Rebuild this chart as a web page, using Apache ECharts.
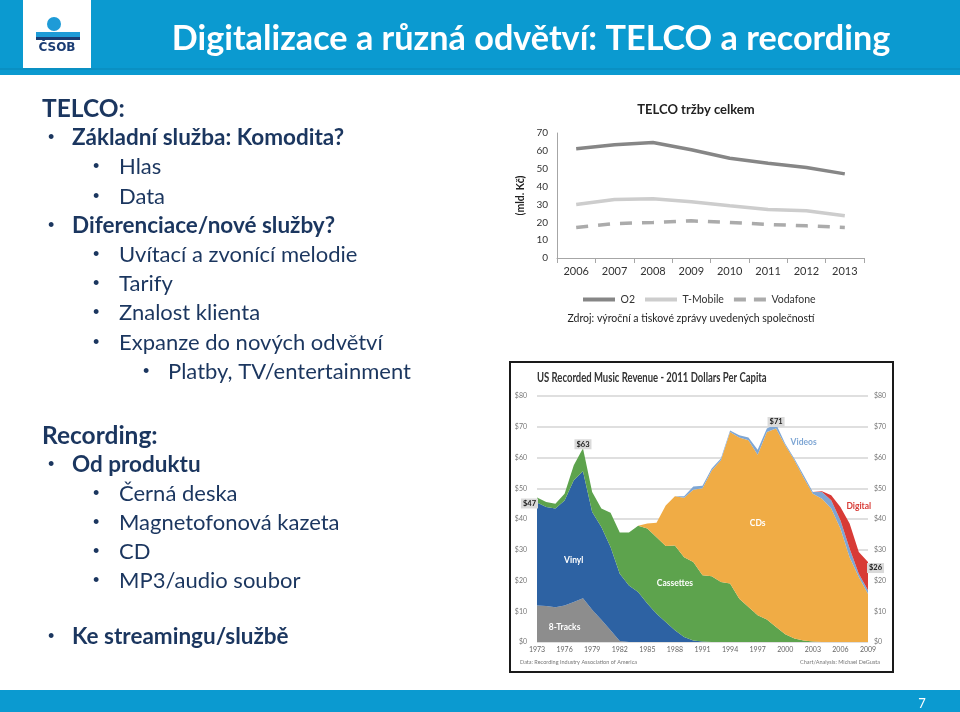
<!DOCTYPE html>
<html><head><meta charset="utf-8">
<script src="https://cdn.jsdelivr.net/npm/echarts@6/dist/echarts.min.js"></script>
<style>html,body{margin:0;padding:0;background:#fff}#c{width:960px;height:712px}</style>
</head><body><div id="c"></div>
<script>
// ---- TELCO chart data ----
const telcoYears = ['2006','2007','2008','2009','2010','2011','2012','2013'];
const o2       = [61.2, 63.4, 64.7, 60.6, 55.9, 53.1, 50.7, 47.1];
const tMobile  = [30.0, 32.8, 33.2, 31.5, 29.3, 27.2, 26.5, 23.6];
const vodafone = [17.1, 19.3, 19.9, 20.8, 19.9, 18.8, 18.0, 17.1];

// ---- US recorded music revenue (2011 $ per capita) ----
const musicYears = ['1973','1974','1975','1976','1977','1978','1979','1980','1981','1982','1983','1984','1985','1986','1987','1988','1989','1990','1991','1992','1993','1994','1995','1996','1997','1998','1999','2000','2001','2002','2003','2004','2005','2006','2007','2008','2009'];
const eightTracks = [11.9,11.7,11.3,11.9,13.0,14.2,10.5,7.2,3.8,0.3,0,0,0,0,0,0,0,0,0,0,0,0,0,0,0,0,0,0,0,0,0,0,0,0,0,0,0];
const vinyl = [33.5,32.2,32.1,34.1,39.6,41.3,31.8,30.2,27.1,21.9,18.4,16.3,12.5,9.2,6.5,3.8,1.6,0.5,0.2,0,0,0,0,0,0,0,0,0,0,0,0,0,0,0,0,0,0];
const cassettes = [1.6,1.6,1.6,2.2,4.9,7.5,6.5,6.0,11.1,13.4,17.2,21.5,24.4,24.9,24.7,27.6,26.0,25.5,21.5,21.4,19.5,19.0,14.1,11.4,8.7,7.3,4.9,2.5,1.1,0.5,0.2,0,0,0,0,0,0];
const cds = [0,0,0,0,0,0,0,0,0,0,0,0,1.6,4.7,13.2,16.0,19.3,23.5,28.3,34.4,39.6,49.3,52.4,54.2,52.2,61.0,64.5,61.5,58.0,52.9,48.0,46.6,43.4,36.9,27.6,21.1,15.7];
const videos = [0,0,0,0,0,0,0,0,0,0,0,0,0,0,0,0,0.5,1.1,0.8,0.6,0.6,0.5,0.7,0.9,1.6,1.1,1.5,0.5,0.5,0.8,0.6,2.2,2.7,2.7,2.8,1.1,1.1];
const digital = [0,0,0,0,0,0,0,0,0,0,0,0,0,0,0,0,0,0,0,0,0,0,0,0,0,0,0,0,0,0,0,0.2,1.6,4.3,8.1,7.1,9.2];
const highlightYears = ['1973','1978','1999','2009'];

// ---- slide text ----
const slideLines = [
  ['TELCO:', 0, true],
  ['Základní služba: Komodita?', 1, true],
  ['Hlas', 2, false],
  ['Data', 2, false],
  ['Diferenciace/nové služby?', 1, true],
  ['Uvítací a zvonící melodie', 2, false],
  ['Tarify', 2, false],
  ['Znalost klienta', 2, false],
  ['Expanze do nových odvětví', 2, false],
  ['Platby, TV/entertainment', 3, false]
];
const slideLines2 = [
  ['Recording:', 0, true],
  ['Od produktu', 1, true],
  ['Černá deska', 2, false],
  ['Magnetofonová kazeta', 2, false],
  ['CD', 2, false],
  ['MP3/audio soubor', 2, false]
];
const slideLines3 = [['Ke streamingu/službě', 1, true]];

const NAVY = '#1B365F';
const FONT = 'Lato, "Open Sans", sans-serif';

const bulletX = [0, 48, 93, 143];
const textX = [42, 72, 119, 168];
const sizes = [24.5, 22.5, 22, 22];
const graphics = [];
function addLines(lines, y0, step) {
  lines.forEach((l, i) => {
    const y = y0 + i * step;
    const lvl = l[1];
    if (lvl > 0) {
      graphics.push({type:'text', style:{text:'•', x:bulletX[lvl], y:y, fontSize:18, fill:NAVY, fontFamily:'Arial', verticalAlign:'middle'}});
    }
    graphics.push({type:'text', style:{text:l[0], x:textX[lvl], y:y, fontSize:sizes[lvl], fontWeight:l[2]?'bold':'normal', fill:NAVY, fontFamily:FONT, verticalAlign:'middle'}});
  });
}
addLines(slideLines, 109, 29.2);
addLines(slideLines2, 436, 29);
addLines(slideLines3, 637, 29);

graphics.unshift(
  {type:'rect', shape:{x:0,y:0,width:960,height:75}, style:{fill:'#0B9AD0'}},
  {type:'rect', shape:{x:0,y:68,width:960,height:2}, style:{fill:'#0A90C3'}},
  {type:'rect', shape:{x:23,y:0,width:68,height:68}, style:{fill:'#ffffff'}},
  {type:'circle', shape:{cx:54,cy:24,r:7}, style:{fill:'#1E9BD7'}},
  {type:'rect', shape:{x:36,y:32,width:44,height:5}, style:{fill:'#1E9BD7'}},
  {type:'rect', shape:{x:36,y:37,width:44,height:3}, style:{fill:'#1A3C73'}},
  {type:'text', style:{text:'ČSOB', x:57, y:48, fontSize:12, fontWeight:'bold', fill:'#1A3C73', fontFamily:'"DejaVu Sans", sans-serif', align:'center', verticalAlign:'middle'}},
  {type:'text', style:{text:'Digitalizace a různá odvětví: TELCO a recording', x:531, y:39, fontSize:34.2, fontWeight:'bold', fill:'#ffffff', fontFamily:FONT, align:'center', verticalAlign:'middle'}},
  {type:'rect', shape:{x:0,y:690,width:960,height:22}, style:{fill:'#0B9AD0'}},
  {type:'text', style:{text:'7', x:922, y:704, fontSize:13, fill:'#ffffff', fontFamily:FONT, align:'center', verticalAlign:'middle'}},
  {type:'text', style:{text:'Zdroj: výroční a tiskové zprávy uvedených společností', x:691, y:319, fontSize:10.5, fill:'#222', fontFamily:FONT, align:'center', verticalAlign:'middle'}},
  {type:'rect', shape:{x:510,y:362,width:383,height:310}, style:{fill:'none', stroke:'#1a1a1a', lineWidth:2}},
  {type:'text', x:537, y:378, scaleX:0.76, style:{text:'US Recorded Music Revenue - 2011 Dollars Per Capita', x:0, y:0, fontSize:12.5, fontWeight:'bold', fill:'#333', fontFamily:FONT, verticalAlign:'middle'}},
  {type:'text', x:520, y:662, scaleX:0.85, style:{text:'Data: Recording Industry Association of America', x:0, y:0, fontSize:6.5, fill:'#777', fontFamily:FONT, verticalAlign:'middle'}},
  {type:'text', x:880, y:662, scaleX:0.85, style:{text:'Chart/Analysis: Michael DeGusta', x:0, y:0, fontSize:6.5, fill:'#777', fontFamily:FONT, align:'right', verticalAlign:'middle'}}
);

const totals = musicYears.map((y, i) => eightTracks[i] + vinyl[i] + cassettes[i] + cds[i] + videos[i] + digital[i]);
const labelPos = {'1973':'left', '1978':'top', '1999':'top', '2009':'right'};
const labelOffset = {'1973':[2,6], '1978':[0,2], '1999':[0,4], '2009':[-2,6]};

function areaSeries(name, data, color, annot) {
  const s = {
    name: name, type: 'line', xAxisIndex: 1, yAxisIndex: 1, stack: 'music',
    data: data, symbol: 'none', smooth: false,
    lineStyle: {width: 0}, areaStyle: {color: color, opacity: 1}, itemStyle: {color: color},
    z: 2
  };
  if (annot) {
    s.markPoint = {
      symbol: 'circle', symbolSize: 0, silent: true,
      label: {show: true, formatter: annot.text, color: annot.color, fontSize: 8.5, fontWeight: 'bold', fontFamily: FONT, position: 'inside'},
      data: [{coord: annot.coord}]
    };
  }
  return s;
}

const digitalSeries = areaSeries('Digital', digital, '#D83B36', {text:'Digital', color:'#D83B36', coord:['2008', 44.1]});
digitalSeries.markPoint.data.push(...highlightYears.map(y => {
  const i = musicYears.indexOf(y);
  return {
    coord: [y, totals[i]],
    label: {show: true, formatter: '$' + Math.round(totals[i]), position: labelPos[y], offset: labelOffset[y], distance: 1,
      color: '#222', fontSize: 7.5, fontWeight: 'bold', fontFamily: FONT, backgroundColor: '#DADADA', padding: [1, 2]}
  };
}));

const chart = echarts.init(document.getElementById('c'), null, {renderer: 'canvas'});
chart.setOption({
  animation: false,
  backgroundColor: '#ffffff',
  title: [
    {text: 'TELCO tržby celkem', left: 691, top: 98, textAlign: 'center',
     textStyle: {fontSize: 13, fontWeight: 'bold', color: '#222', fontFamily: FONT}}
  ],
  legend: {
    data: [
      {name: 'O2', icon: 'path://M0,0H32V4H0Z'},
      {name: 'T-Mobile', icon: 'path://M0,0H32V4H0Z'},
      {name: 'Vodafone', icon: 'path://M0,0H12V4H0Z M20,0H32V4H20Z'}
    ],
    left: 578, top: 289, itemWidth: 33, itemHeight: 4, itemGap: 10,
    textStyle: {fontSize: 10.5, color: '#333', fontFamily: FONT}
  },
  grid: [
    {left: 557, top: 133, width: 307, height: 125},
    {left: 537, right: 92, top: 396, bottom: 70}
  ],
  xAxis: [
    {type: 'category', gridIndex: 0, data: telcoYears, boundaryGap: true,
     axisLine: {lineStyle: {color: '#A6A6A6'}}, axisTick: {show: true, length: 5, lineStyle: {color: '#A6A6A6'}},
     axisLabel: {fontSize: 11, color: '#333', margin: 8, fontFamily: FONT}},
    {type: 'category', gridIndex: 1, data: musicYears, boundaryGap: false,
     axisLine: {show: false}, axisTick: {show: false},
     axisLabel: {interval: 2, fontSize: 7, color: '#666', margin: 4, fontFamily: FONT}}
  ],
  yAxis: [
    {type: 'value', gridIndex: 0, min: 0, max: 70, interval: 10,
     name: '(mld. Kč)', nameLocation: 'middle', nameRotate: 90, nameGap: 31,
     nameTextStyle: {fontSize: 10.5, fontWeight: 'bold', color: '#222', fontFamily: FONT},
     axisLine: {show: true, lineStyle: {color: '#A6A6A6'}}, axisTick: {show: false}, splitLine: {show: false},
     axisLabel: {fontSize: 10, color: '#333', margin: 9, fontFamily: FONT}},
    {type: 'value', gridIndex: 1, min: 0, max: 80, interval: 10, position: 'left',
     axisLine: {show: false}, axisTick: {show: false},
     splitLine: {show: true, lineStyle: {color: '#D4D4D4', width: 1.5}},
     axisLabel: {fontSize: 7, color: '#777', margin: 10, fontFamily: FONT, formatter: v => '$' + v}},
    {type: 'value', gridIndex: 1, min: 0, max: 80, interval: 10, position: 'right',
     axisLine: {show: false}, axisTick: {show: false}, splitLine: {show: false},
     axisLabel: {fontSize: 7, color: '#777', margin: 6, fontFamily: FONT, formatter: v => '$' + v}}
  ],
  series: [
    {name: 'O2', type: 'line', xAxisIndex: 0, yAxisIndex: 0, data: o2, symbol: 'none',
     lineStyle: {width: 3.5, color: '#868686'}, itemStyle: {color: '#868686'}},
    {name: 'T-Mobile', type: 'line', xAxisIndex: 0, yAxisIndex: 0, data: tMobile, symbol: 'none',
     lineStyle: {width: 3.5, color: '#CDCDCD'}, itemStyle: {color: '#CDCDCD'}},
    {name: 'Vodafone', type: 'line', xAxisIndex: 0, yAxisIndex: 0, data: vodafone, symbol: 'none',
     lineStyle: {width: 3.5, color: '#ABABAB', type: [12, 10]}, itemStyle: {color: '#ABABAB'}},
    areaSeries('8-Tracks', eightTracks, '#8D8D8D', {text:'8-Tracks', color:'#ffffff', coord:['1976', 4.8]}),
    areaSeries('Vinyl', vinyl, '#2D62A3', {text:'Vinyl', color:'#ffffff', coord:['1977', 26.6]}),
    areaSeries('Cassettes', cassettes, '#5DA34D', {text:'Cassettes', color:'#ffffff', coord:['1988', 19.1]}),
    areaSeries('CDs', cds, '#F0AC45', {text:'CDs', color:'#ffffff', coord:['1997', 38.6]}),
    areaSeries('Videos', videos, '#7EA6D4', {text:'Videos', color:'#7EA6D4', coord:['2002', 64.9]}),
    digitalSeries
  ],
  graphic: graphics
});
</script>
</body></html>
